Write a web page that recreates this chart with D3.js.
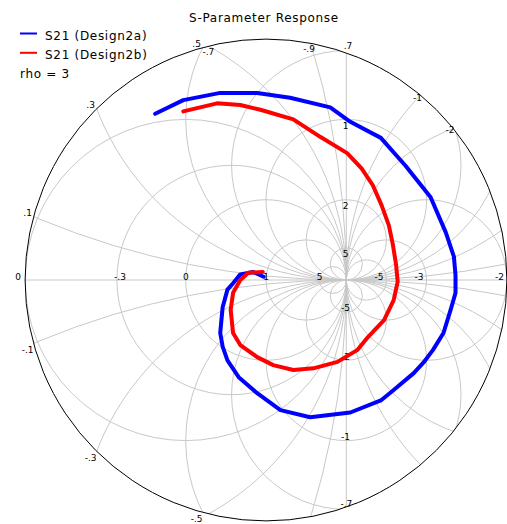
<!DOCTYPE html>
<html>
<head>
<meta charset="utf-8">
<script src="https://cdn.jsdelivr.net/npm/d3@7"></script>
<style>
  html, body { margin: 0; padding: 0; background: #fff; }
  svg { display: block; font-family: "DejaVu Sans", sans-serif; }
</style>
</head>
<body>
<svg id="chart" width="507" height="524"></svg>
<script>
// S21 traces as reflection-plane coordinates (real / imaginary parts)
const design2aRe = [-0.03, -0.16, -0.32, -0.41, -0.48, -0.54, -0.57, -0.54, -0.48, -0.34, -0.11, 0.18, 0.55, 1.05, 1.43, 1.59, 1.84, 1.96, 2.08, 2.21, 2.30, 2.36, 2.36, 2.34, 2.24, 2.05, 1.74, 1.43, 1.05, 0.80, 0.30, -0.11, -0.57, -1.03, -1.38];
const design2aIm = [0.04, 0.10, 0.07, -0.04, -0.12, -0.34, -0.66, -0.83, -1.00, -1.21, -1.41, -1.62, -1.71, -1.65, -1.50, -1.37, -1.16, -1.03, -0.87, -0.66, -0.37, -0.16, 0.06, 0.29, 0.59, 1.03, 1.42, 1.77, 1.97, 2.15, 2.27, 2.33, 2.33, 2.24, 2.07];
const design2bRe = [-0.04, -0.22, -0.32, -0.41, -0.44, -0.41, -0.32, -0.11, 0.09, 0.34, 0.59, 0.89, 1.14, 1.27, 1.47, 1.59, 1.64, 1.62, 1.58, 1.53, 1.44, 1.33, 1.19, 1.01, 0.68, 0.34, -0.07, -0.32, -0.61, -1.03];
const design2bIm = [0.10, 0.09, 0.00, -0.16, -0.37, -0.66, -0.81, -0.96, -1.06, -1.12, -1.10, -1.02, -0.87, -0.71, -0.50, -0.25, -0.02, 0.19, 0.44, 0.68, 0.93, 1.18, 1.39, 1.58, 1.78, 2.00, 2.12, 2.18, 2.20, 2.10];

const seriesNames = ["S21 (Design2a)", "S21 (Design2b)"];
const seriesColors = ["#0000ff", "#ff0000"];

const rho = 3;

// Constant-resistance and constant-reactance grid values
const resistanceValues = [0, 1, 5, -0.3, -0.5, -0.7, -0.9, -1, -1.3, -1.5, -2, -3, -5];
const reactanceValues = [0.1, 0.3, 0.5, 0.7, 1, 2, 5, -0.1, -0.3, -0.5, -0.7, -1, -2, -5];

// Grid labels
const axisLabelValues = [-0.3, 0, 1, 5, -5, -3, -2];
const axisLabelText = ["-.3", "0", "1", "5", "-5", "-3", "-2"];
const rimResistanceValues = [-0.7, -0.9, -1.3, -1.5];
const rimResistanceText = ["-.7", "-.9", "-1", "-2"];
const rimReactanceValues = [0.1, 0.3, 0.5, -0.1, -0.3, -0.5];
const rimReactanceText = [".1", ".3", ".5", "-.1", "-.3", "-.5"];
const apexReactanceValues = [0.7, 1, 2, 5, -5, -2, -1, -0.7];
const apexReactanceText = [".7", "1", "2", "5", "-5", "-2", "-1", "-.7"];

const svg = d3.select("#chart");
const cx = 266, cy = 280, unit = 80.3;

const sx = d3.scaleLinear().domain([-rho, rho]).range([cx - rho * unit, cx + rho * unit]);
const sy = d3.scaleLinear().domain([-rho, rho]).range([cy + rho * unit, cy - rho * unit]);
const len = d => sx(d) - sx(0);

const gridColor = "#c8c8c8";

svg.append("defs").append("clipPath").attr("id", "rimClip")
  .append("circle").attr("cx", sx(0)).attr("cy", sy(0)).attr("r", len(rho));

const grid = svg.append("g").attr("clip-path", "url(#rimClip)")
  .attr("fill", "none").attr("stroke", gridColor).attr("stroke-width", 1);

// real axis
grid.append("line")
  .attr("x1", sx(-rho)).attr("x2", sx(rho))
  .attr("y1", sy(0)).attr("y2", sy(0));

// resistance circles: centre r/(1+r), radius 1/|1+r|; r = -1 is the line Re = 1
resistanceValues.forEach(r => {
  if (r === -1) {
    const h = Math.sqrt(rho * rho - 1);
    grid.append("line")
      .attr("x1", sx(1)).attr("x2", sx(1))
      .attr("y1", sy(h)).attr("y2", sy(-h));
  } else {
    grid.append("circle")
      .attr("cx", sx(r / (1 + r))).attr("cy", sy(0))
      .attr("r", len(1 / Math.abs(1 + r)));
  }
});

// reactance circles: centre (1, 1/x), radius 1/|x|
reactanceValues.forEach(x => {
  grid.append("circle")
    .attr("cx", sx(1)).attr("cy", sy(1 / x))
    .attr("r", len(1 / Math.abs(x)));
});

// outer boundary |Gamma| = rho
svg.append("circle")
  .attr("cx", sx(0)).attr("cy", sy(0)).attr("r", len(rho))
  .attr("fill", "none").attr("stroke", "#000").attr("stroke-width", 1);

// ---- grid labels ----
const labels = svg.append("g").attr("font-size", 9).attr("fill", "#000");

// where a resistance circle meets the rim (upper half)
function rimResistance(r) {
  const u = 5 + 4 / r;
  return [u, Math.sqrt(rho * rho - u * u)];
}
// where a reactance circle meets the rim on the left-hand side
function rimReactance(x) {
  const a = 1 + 1 / (x * x), b = -10 / x, c = 16;
  const disc = Math.sqrt(b * b - 4 * a * c);
  const v1 = (-b + disc) / (2 * a), v2 = (-b - disc) / (2 * a);
  const cand = [v1, v2].map(v => [5 - v / x, v]);
  return cand[0][0] < cand[1][0] ? cand[0] : cand[1];
}

axisLabelValues.forEach((r, i) => {
  const g0 = (r - 1) / (r + 1);
  const right = g0 > 1;
  labels.append("text")
    .attr("x", right ? sx(g0) - 3 : sx(g0) - 2.8)
    .attr("y", sy(0))
    .attr("text-anchor", right ? "end" : "start")
    .text(axisLabelText[i]);
});
labels.append("text")
  .attr("x", sx(-rho) - 4).attr("y", sy(0))
  .attr("text-anchor", "end").text("0");

rimResistanceValues.forEach((r, i) => {
  const [u, v] = rimResistance(r);
  const th = Math.atan2(v, u);
  labels.append("text")
    .attr("x", sx(u) - 1 - 3 * Math.cos(th))
    .attr("y", sy(v) + 6 * Math.pow(Math.sin(th), 3))
    .attr("dy", "0.36em")
    .attr("text-anchor", "middle")
    .text(rimResistanceText[i]);
});

rimReactanceValues.forEach((x, i) => {
  const [u, v] = rimReactance(x);
  labels.append("text")
    .attr("x", sx(u) - 6)
    .attr("y", sy(v) + (x > 0 ? -4 : 6))
    .attr("dy", "0.36em")
    .attr("text-anchor", "middle")
    .text(rimReactanceText[i]);
});

apexReactanceValues.forEach((x, i) => {
  const top = 2 / x;
  const outside = 1 + top * top > rho * rho;
  const t = labels.append("text").text(apexReactanceText[i]);
  if (outside) {
    t.attr("x", sx(1) + 6).attr("y", sy(top) - 2).attr("text-anchor", "end");
  } else {
    t.attr("x", sx(1) - 0.7)
      .attr("y", sy(top) + (x > 0 ? 6 : -4))
      .attr("dy", "0.36em")
      .attr("text-anchor", "middle");
  }
});

// ---- traces ----
const traces = [[design2aRe, design2aIm], [design2bRe, design2bIm]];
const line = d3.line().x(d => sx(d[0])).y(d => sy(d[1]));
traces.forEach(([re, im], k) => {
  svg.append("path")
    .datum(re.map((v, i) => [v, im[i]]))
    .attr("d", line)
    .attr("fill", "none")
    .attr("stroke", seriesColors[k])
    .attr("stroke-width", 4)
    .attr("stroke-linejoin", "round")
    .attr("stroke-linecap", "round");
});

// ---- title and legend ----
const txt = svg.append("g").attr("font-size", 12).attr("letter-spacing", "0.7px").attr("fill", "#000");
txt.append("text").attr("x", 264).attr("y", 21.5).attr("text-anchor", "middle")
  .text("S-Parameter Response");

seriesNames.forEach((name, k) => {
  const y = 33.5 + k * 19.3;
  svg.append("line")
    .attr("x1", 20).attr("x2", 37).attr("y1", y).attr("y2", y)
    .attr("stroke", seriesColors[k]).attr("stroke-width", 2);
  txt.append("text").attr("x", 45).attr("y", y + 6).text(name);
});
txt.append("text").attr("x", 20).attr("y", 78).text("rho = " + rho);
</script>
</body>
</html>
